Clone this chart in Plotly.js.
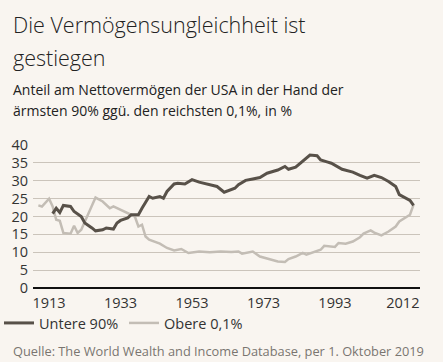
<!DOCTYPE html>
<html>
<head>
<meta charset="utf-8">
<script src="https://cdn.plot.ly/plotly-3.0.1.min.js"></script>
<style>
html,body{margin:0;padding:0;background:#f9f5f0;}
#chart{width:443px;height:362px;}
</style>
</head>
<body>
<div id="chart"></div>
<script>
// Untere 90% (share of net wealth, %)
var yearsBottom90 = [1914,1915,1916,1917,1919,1920,1922,1923,1925,1926,1928,1929,1931,1932,1933,1935,1936,1938,1939,1941,1942,1944,1945,1946,1948,1949,1951,1952,1953,1955,1958,1960,1962,1965,1966,1968,1970,1972,1974,1977,1979,1980,1982,1984,1986,1988,1989,1991,1992,1995,1996,1998,2000,2002,2004,2006,2008,2010,2011,2013,2014,2015];
var bottom90 = [20.8,22.3,21.1,23.1,22.8,21.4,20.0,18.2,16.8,16.0,16.3,16.8,16.5,18.2,18.9,19.6,20.5,20.5,22.3,25.6,25.1,25.6,25.1,27.0,29.1,29.3,29.1,29.8,30.3,29.6,28.9,28.4,26.8,27.9,28.9,30.1,30.5,30.9,32.1,33.0,34.0,33.2,33.8,35.6,37.2,37.0,35.8,35.2,34.9,33.2,33.0,32.4,31.5,30.7,31.5,30.9,29.8,28.4,26.1,25.1,24.5,23.1];

// Obere 0,1% (share of net wealth, %)
var yearsTop01 = [1910,1911,1913,1914,1915,1916,1917,1919,1920,1921,1922,1923,1925,1926,1928,1930,1931,1933,1935,1937,1938,1939,1940,1941,1944,1946,1948,1950,1952,1955,1958,1961,1964,1966,1967,1970,1972,1975,1977,1979,1980,1982,1984,1985,1987,1989,1990,1992,1993,1994,1996,1998,2000,2001,2003,2004,2006,2008,2010,2011,2013,2014,2015];
var top01 = [23.1,22.8,25.0,22.8,19.1,18.8,15.4,15.2,17.4,15.4,16.3,18.6,23.3,25.3,24.2,22.3,22.8,21.9,20.8,20.0,17.2,17.7,14.4,13.5,12.4,11.2,10.5,10.9,9.8,10.2,10.0,10.2,10.1,10.2,9.6,10.2,8.8,7.9,7.4,7.3,8.1,8.8,9.8,9.3,10.0,10.7,11.8,11.6,11.5,12.6,12.4,13.0,14.2,15.2,16.1,15.5,14.7,15.8,17.2,18.6,19.8,20.5,23.3];

var xTickVals = [1913,1933,1953,1973,1993,2012];
var xTickText = ['1913','1933','1953','1973','1993','2012'];
var yTickVals = [0,5,10,15,20,25,30,35,40];

var titleLines = ['Die Vermögensungleichheit ist','gestiegen'];
var subtitleLines = ['Anteil am Nettovermögen der USA in der Hand der','ärmsten 90% ggü. den reichsten 0,1%, in %'];
var sourceText = 'Quelle: The World Wealth and Income Database, per 1. Oktober 2019';
var seriesNames = ['Untere 90%','Obere 0,1%'];

var FONT = 'Open Sans, DejaVu Sans, sans-serif';
var W = 443, H = 362, L = 33, R = 23, T = 145, B = 74;
var pw = W - L - R, ph = H - T - B;
function px(x){ return (x - L) / pw; }
function py(y){ return (H - B - y) / ph; }

var traces = [
  {x: yearsTop01, y: top01, type: 'scatter', mode: 'lines', name: seriesNames[1],
   line: {color: '#c3bdb5', width: 2.5}},
  {x: yearsBottom90, y: bottom90, type: 'scatter', mode: 'lines', name: seriesNames[0],
   line: {color: '#585149', width: 3}}
];

var ann = [];
ann.push({text: titleLines[0], x: px(11), y: py(24.5), xref: 'paper', yref: 'paper', xanchor: 'left', yanchor: 'middle', showarrow: false, font: {family: FONT, size: 21.5, color: '#222', weight: 300}});
ann.push({text: titleLines[1], x: px(11), y: py(57), xref: 'paper', yref: 'paper', xanchor: 'left', yanchor: 'middle', showarrow: false, font: {family: FONT, size: 21.5, color: '#222', weight: 300}});
ann.push({text: subtitleLines[0], x: px(11), y: py(89.5), xref: 'paper', yref: 'paper', xanchor: 'left', yanchor: 'middle', showarrow: false, font: {family: FONT, size: 14, color: '#222'}});
ann.push({text: subtitleLines[1], x: px(11), y: py(110.5), xref: 'paper', yref: 'paper', xanchor: 'left', yanchor: 'middle', showarrow: false, font: {family: FONT, size: 14, color: '#222'}});
ann.push({text: sourceText, x: px(11), y: py(351), xref: 'paper', yref: 'paper', xanchor: 'left', yanchor: 'middle', showarrow: false, font: {family: FONT, size: 12.8, color: '#7a7570'}});

var layout = {
  width: W, height: H,
  margin: {l: L, r: R, t: T, b: B, pad: 0, autoexpand: false},
  paper_bgcolor: '#f9f5f0', plot_bgcolor: '#f9f5f0',
  font: {family: FONT, color: '#333'},
  showlegend: true,
  legend: {orientation: 'h', x: px(-1), y: py(323), xanchor: 'left', yanchor: 'middle',
           traceorder: 'reversed', bgcolor: 'rgba(0,0,0,0)', borderwidth: 0,
           font: {family: FONT, size: 14.5, color: '#333'}, entrywidth: 80, entrywidthmode: 'pixels'},
  xaxis: {range: [1908.5, 2016.8], tickvals: xTickVals, ticktext: xTickText, showgrid: false,
          zeroline: false, showline: false, ticks: '', tickfont: {family: FONT, size: 14.5, color: '#333'},
          ticklabelstandoff: 4, fixedrange: true, automargin: false},
  yaxis: {range: [0, 40], tickvals: yTickVals, showgrid: true, gridcolor: '#cbc4bb', gridwidth: 1,
          zeroline: true, zerolinecolor: '#111', zerolinewidth: 1.5, showline: false, ticks: '',
          tickfont: {family: FONT, size: 14.5, color: '#333'}, ticklabelstandoff: 4, fixedrange: true, automargin: false},
  annotations: ann
};

Plotly.newPlot('chart', traces, layout, {displayModeBar: false, staticPlot: true});
</script>
</body>
</html>
